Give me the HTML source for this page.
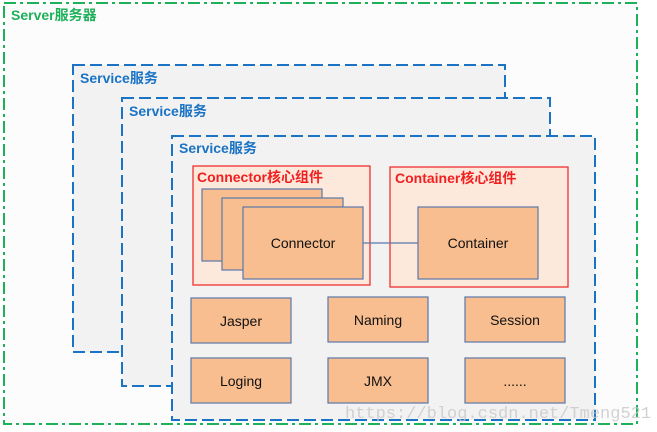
<!DOCTYPE html>
<html><head><meta charset="utf-8"><style>
body{margin:0;background:#fff;}
svg{display:block;font-family:"Liberation Sans","Noto Sans CJK SC",sans-serif;}
</style></head><body>
<svg width="657" height="432" viewBox="0 0 657 432" xmlns="http://www.w3.org/2000/svg">
<rect x="0" y="0" width="657" height="432" fill="#fff"/>
<rect x="4" y="3" width="633" height="421" fill="#fcfcfc" stroke="#1fb05a" stroke-width="2" stroke-dasharray="12,4,3,4"/>
<text x="11" y="20" font-size="14" font-weight="bold" fill="#1fb05a">Server服务器</text>

<rect x="73" y="65" width="432" height="287" fill="#f2f2f2" stroke="#1a73c4" stroke-width="2" stroke-dasharray="12,5"/>
<text x="80" y="83" font-size="14" font-weight="bold" fill="#1a73c4">Service服务</text>
<rect x="122" y="98" width="428" height="288" fill="#f2f2f2" stroke="#1a73c4" stroke-width="2" stroke-dasharray="12,5"/>
<text x="129" y="116" font-size="14" font-weight="bold" fill="#1a73c4">Service服务</text>
<rect x="172" y="136" width="423" height="284" fill="#f2f2f2" stroke="#1a73c4" stroke-width="2" stroke-dasharray="12,5"/>
<text x="179" y="153" font-size="14" font-weight="bold" fill="#1a73c4">Service服务</text>

<rect x="193" y="166" width="177" height="119" fill="#fde9dc" stroke="#f03030" stroke-width="1.3"/>
<text x="197" y="182" font-size="14" font-weight="bold" fill="#f02020">Connector核心组件</text>
<rect x="390" y="167" width="178" height="120" fill="#fde9dc" stroke="#f03030" stroke-width="1.3"/>
<text x="395" y="183" font-size="14" font-weight="bold" fill="#f02020">Container核心组件</text>

<g fill="#f8be8f" stroke="#5a78a8" stroke-width="1.2">
<rect x="202" y="189" width="120" height="72"/>
<rect x="222" y="198" width="121" height="72"/>
<rect x="243" y="207" width="120" height="72"/>
<rect x="418" y="207" width="120" height="72"/>
<rect x="191" y="298" width="100" height="45"/>
<rect x="328" y="297" width="100" height="45"/>
<rect x="465" y="297" width="100" height="45"/>
<rect x="191" y="358" width="100" height="45"/>
<rect x="328" y="358" width="100" height="45"/>
<rect x="465" y="358" width="100" height="45"/>
</g>
<line x1="363" y1="243" x2="418" y2="243" stroke="#5a78a8" stroke-width="1.2"/>
<g font-size="14" fill="#111" text-anchor="middle">
<text x="303" y="248">Connector</text>
<text x="478" y="248">Container</text>
<text x="241" y="326">Jasper</text>
<text x="378" y="325">Naming</text>
<text x="515" y="325">Session</text>
<text x="241" y="386">Loging</text>
<text x="378" y="386">JMX</text>
<text x="515" y="386">......</text>
</g>
<text x="345" y="418" font-size="17" fill="#c8c8c8" font-family="Liberation Mono,monospace" opacity="0.8">https://blog.csdn.net/Tmeng521</text>
</svg>
</body></html>
